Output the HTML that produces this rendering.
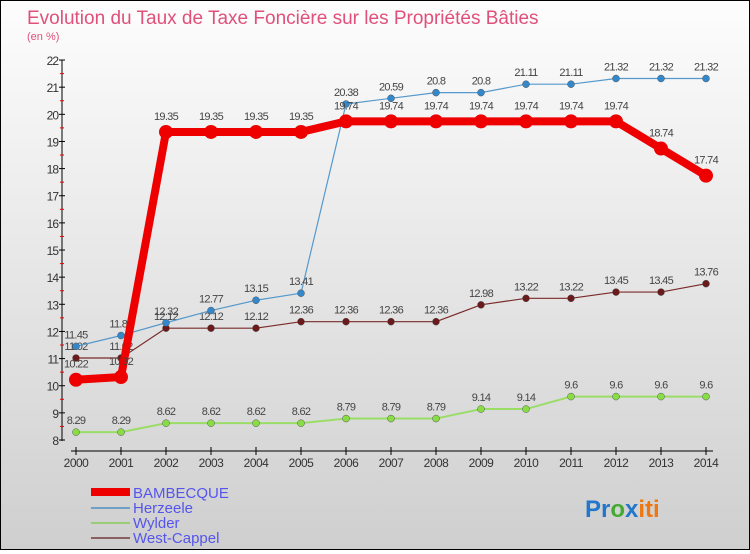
<!DOCTYPE html>
<html><head><meta charset="utf-8"><style>
body{margin:0}
#c{width:748px;height:548px;border:1px solid #000;background:linear-gradient(#fdfdfd,#cfcfcf);position:relative;font-family:"Liberation Sans",sans-serif}
</style></head><body>
<div id="c">
<svg id="s" width="748" height="548" xmlns="http://www.w3.org/2000/svg" font-family="Liberation Sans, sans-serif">
<text x="26" y="23" font-size="19" fill="#e0507a">Evolution du Taux de Taxe Foncière sur les Propriétés Bâties</text>
<text x="26" y="39" font-size="11" fill="#e0507a">(en %)</text>
<g id="axes"></g><g id="series"></g>
<g font-size="15" fill="#5555ee">
<rect x="90" y="487" width="39" height="8" fill="#ee0000"/>
<text x="132" y="497">BAMBECQUE</text>
<rect x="90" y="506" width="39" height="2" fill="#6fa0c8"/>
<text x="132" y="512">Herzeele</text>
<rect x="90" y="521" width="39" height="2" fill="#99cc77"/>
<text x="132" y="527">Wylder</text>
<rect x="90" y="536" width="39" height="2" fill="#8a6060"/>
<text x="132" y="542">West-Cappel</text>
</g>
<text x="584" y="516" font-size="24" font-weight="bold"><tspan fill="#2277cc">Pr</tspan><tspan fill="#44aa33">o</tspan><tspan fill="#2277cc">x</tspan><tspan fill="#ee7711">iti</tspan></text>
</svg></div>
<script>
const years=[2000,2001,2002,2003,2004,2005,2006,2007,2008,2009,2010,2011,2012,2013,2014];
const yTicks=[8,9,10,11,12,13,14,15,16,17,18,19,20,21,22];
const bambecque=[10.22,10.32,19.35,19.35,19.35,19.35,19.74,19.74,19.74,19.74,19.74,19.74,19.74,18.74,17.74];
const herzeele=[11.45,11.85,12.32,12.77,13.15,13.41,20.38,20.59,20.8,20.8,21.11,21.11,21.32,21.32,21.32];
const wylder=[8.29,8.29,8.62,8.62,8.62,8.62,8.79,8.79,8.79,9.14,9.14,9.6,9.6,9.6,9.6];
const westCappel=[11.02,11.02,12.12,12.12,12.12,12.36,12.36,12.36,12.36,12.98,13.22,13.22,13.45,13.45,13.76];
const NS="http://www.w3.org/2000/svg";
const xs=i=>75+45*i;
const ys=v=>439-(v-8)*27.14;
function mk(t,a,p){const e=document.createElementNS(NS,t);for(const k in a)e.setAttribute(k,a[k]);p.appendChild(e);return e;}
const ax=document.getElementById('axes');
const yl=mk('line',{x1:61,y1:59,x2:61,y2:440,stroke:'#000'},ax);


yTicks.forEach(v=>{
 mk('line',{x1:58,x2:64,y1:ys(v),y2:ys(v),stroke:'#000'},ax);
 if(v<22)mk('line',{x1:59,x2:63,y1:ys(v+0.5),y2:ys(v+0.5),stroke:'#e00'},ax);
 const t=mk('text',{x:57,y:ys(v)+5,'font-size':12,'text-anchor':'end',fill:'#333','letter-spacing':'-1'},ax);t.textContent=v;
 
 
});
const xl=mk('line',{x1:70,y1:450,x2:712,y2:450,stroke:'#000'},ax);


years.forEach((y,i)=>{
 mk('line',{x1:xs(i),x2:xs(i),y1:446,y2:454,stroke:'#000'},ax);
 const t=mk('text',{x:xs(i),y:466,'font-size':12,'text-anchor':'middle',fill:'#333','letter-spacing':'-0.5'},ax);t.textContent=y;
 
 
});
const sg=document.getElementById('series');
function draw(vals,name,color,w,r,dot){
 const g=mk('g',{},sg);
 
 
 const l=mk('polyline',{points:vals.map((v,i)=>xs(i)+','+ys(v)).join(' '),fill:'none',stroke:color,'stroke-width':w,'stroke-linejoin':'round'},g);
 
 
 vals.forEach((v,i)=>{
  const c=mk('circle',{cx:xs(i),cy:ys(v),r:r,fill:dot,stroke:r>4?'none':'#555','stroke-width':0.5},g);
  
  
  const t=mk('text',{x:xs(i),y:ys(v)-(r>4?12:8),'font-size':11,'text-anchor':'middle',fill:'#444','letter-spacing':'-0.7'},g);
  t.textContent=v;
  
  
 });
}
draw(wylder,'wylder','#99dd66',2,3.5,'#88dd44');
draw(westCappel,'west-cappel','#7a2a2a',1.2,3.5,'#6a1a1a');
draw(herzeele,'herzeele','#5599cc',1.2,3.5,'#3388cc');
draw(bambecque,'bambecque','#ee0000',8,7,'#ee0000');
</script>
</body></html>
